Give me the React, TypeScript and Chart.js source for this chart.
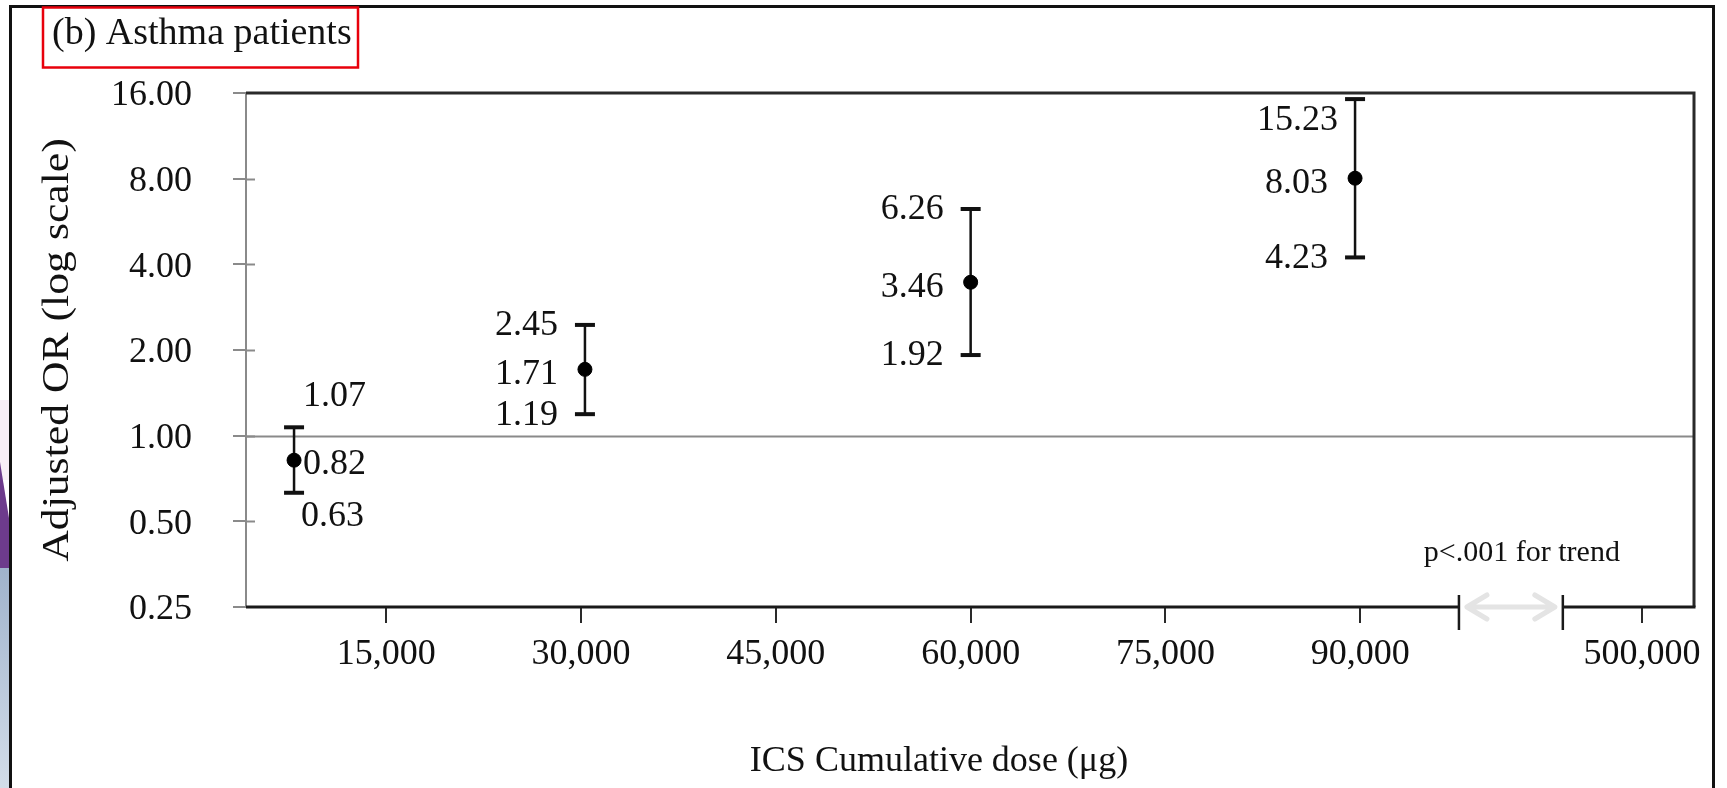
import React, { useEffect, useRef } from 'react';
import { Chart, registerables } from 'chart.js';

Chart.register(...registerables);

// ---- data ----
const doseX = [7900, 30300, 60000, 89600];
const orValues = [0.82, 1.71, 3.46, 8.03];
const lowerCI = [0.63, 1.19, 1.92, 4.23];
const upperCI = [1.07, 2.45, 6.26, 15.23];

const yTickValues = [0.25, 0.5, 1, 2, 4, 8, 16];
const yTickLabels = ['0.25', '0.50', '1.00', '2.00', '4.00', '8.00', '16.00'];

const xTickValues = [15000, 30000, 45000, 60000, 75000, 90000, 111700];
const xTickLabels = ['15,000', '30,000', '45,000', '60,000', '75,000', '90,000', '500,000'];
const xRange = [4200, 115700];
const xBreak = [97600, 105600];
const referenceOR = 1;

const panelTitle = '(b) Asthma patients';
const yTitle = 'Adjusted OR (log scale)';
const xTitle = 'ICS Cumulative dose (\u03bcg)';
const trendNote = 'p<.001 for trend';

const SERIF = "'Liberation Serif', 'Times New Roman', serif";
const TEXT = '#111111';

const fmt = (v: number) => v.toFixed(2);

const decorPlugin = {
  id: 'decor',
  beforeDraw(chart: any) {
    const ctx = chart.ctx;
    ctx.save();
    ctx.fillStyle = '#ffffff';
    ctx.fillRect(0, 0, chart.width, chart.height);
    // left edge decoration (background of original page)
    ctx.fillStyle = '#f8eef6';
    ctx.fillRect(0, 400, 9, 80);
    ctx.fillStyle = '#6d3b8c';
    ctx.beginPath();
    ctx.moveTo(0, 462);
    ctx.lineTo(9, 518);
    ctx.lineTo(9, 568);
    ctx.lineTo(0, 568);
    ctx.closePath();
    ctx.fill();
    const g = ctx.createLinearGradient(0, 568, 0, 788);
    g.addColorStop(0, '#9fb3cc');
    g.addColorStop(1, '#d3dde9');
    ctx.fillStyle = g;
    ctx.fillRect(0, 568, 9, 220);
    // outer frame
    ctx.strokeStyle = '#111';
    ctx.lineWidth = 3;
    ctx.strokeRect(10.5, 6.5, 1703, 800);
    // red title box
    ctx.strokeStyle = '#e8000b';
    ctx.lineWidth = 2.5;
    ctx.strokeRect(43, 7.5, 315, 60);
    ctx.fillStyle = TEXT;
    ctx.font = `38px ${SERIF}`;
    ctx.textAlign = 'left';
    ctx.textBaseline = 'alphabetic';
    ctx.fillText(panelTitle, 52, 44);
    ctx.restore();
  },
  beforeDatasetsDraw(chart: any) {
    const { ctx, chartArea } = chart;
    const y = chart.scales.y;
    const py = Math.round(y.getPixelForValue(referenceOR)) + 0.5;
    ctx.save();
    ctx.strokeStyle = '#8a8a8a';
    ctx.lineWidth = 2;
    ctx.beginPath();
    ctx.moveTo(chartArea.left, py);
    ctx.lineTo(chartArea.right, py);
    ctx.stroke();
    ctx.restore();
  },
  afterDraw(chart: any) {
    const { ctx, chartArea } = chart;
    const xs = chart.scales.x;
    const ys = chart.scales.y;
    const { left, right, top, bottom } = chartArea;
    ctx.save();
    // inner half of the y ticks
    ctx.strokeStyle = '#8a8a8a';
    ctx.lineWidth = 2;
    yTickValues.forEach((v, i) => {
      if (i === 0 || i === yTickValues.length - 1) return;
      const p = Math.round(ys.getPixelForValue(v)) + 0.5;
      ctx.beginPath();
      ctx.moveTo(left, p);
      ctx.lineTo(left + 9, p);
      ctx.stroke();
    });
    // top and right frame
    ctx.strokeStyle = '#2a2a2a';
    ctx.lineWidth = 3;
    ctx.beginPath();
    ctx.moveTo(left, top);
    ctx.lineTo(right, top);
    ctx.lineTo(right, bottom);
    ctx.stroke();
    // bottom axis with break
    const b0 = xs.getPixelForValue(xBreak[0]);
    const b1 = xs.getPixelForValue(xBreak[1]);
    ctx.strokeStyle = '#1a1a1a';
    ctx.lineWidth = 3;
    ctx.beginPath();
    ctx.moveTo(left, bottom);
    ctx.lineTo(b0, bottom);
    ctx.moveTo(b1, bottom);
    ctx.lineTo(right + 1.5, bottom);
    ctx.stroke();
    ctx.lineWidth = 2.5;
    ctx.beginPath();
    ctx.moveTo(b0, bottom - 12);
    ctx.lineTo(b0, bottom + 23);
    ctx.moveTo(b1, bottom - 12);
    ctx.lineTo(b1, bottom + 23);
    ctx.stroke();
    // light double arrow in the gap
    ctx.strokeStyle = '#e4e4e4';
    ctx.lineWidth = 5;
    ctx.lineCap = 'round';
    ctx.lineJoin = 'round';
    const a0 = b0 + 8;
    const a1 = b1 - 8;
    ctx.beginPath();
    ctx.moveTo(a0, bottom);
    ctx.lineTo(a1, bottom);
    ctx.moveTo(a0 + 20, bottom - 12);
    ctx.lineTo(a0, bottom);
    ctx.lineTo(a0 + 20, bottom + 12);
    ctx.moveTo(a1 - 20, bottom - 12);
    ctx.lineTo(a1, bottom);
    ctx.lineTo(a1 - 20, bottom + 12);
    ctx.stroke();
    // trend note
    ctx.fillStyle = TEXT;
    ctx.font = `30px ${SERIF}`;
    ctx.textAlign = 'center';
    ctx.textBaseline = 'middle';
    ctx.fillText(trendNote, (b0 + b1) / 2 + 11, bottom - 54);
    // x axis title
    ctx.font = `36px ${SERIF}`;
    ctx.fillText(xTitle, 939, 762);
    // y axis title (rotated, slightly stretched like the source image)
    ctx.save();
    ctx.translate(58, (top + bottom) / 2);
    ctx.rotate(-Math.PI / 2);
    ctx.scale(1.15, 1);
    ctx.font = `38px ${SERIF}`;
    ctx.fillText(yTitle, 0, 0);
    ctx.restore();
    // value labels
    ctx.font = `36px ${SERIF}`;
    const dy = 4;
    doseX.forEach((d, i) => {
      const px = xs.getPixelForValue(d);
      const pm = ys.getPixelForValue(orValues[i]);
      const pu = ys.getPixelForValue(upperCI[i]);
      const pl = ys.getPixelForValue(lowerCI[i]);
      if (i === 0) {
        ctx.textAlign = 'left';
        ctx.fillText(fmt(upperCI[i]), px + 9, pu - 35 + dy);
        ctx.fillText(fmt(orValues[i]), px + 9, pm + dy);
        ctx.fillText(fmt(lowerCI[i]), px + 7, pl + 20 + dy);
      } else {
        ctx.textAlign = 'right';
        const clamped = pu - 3 < top + 24;
        ctx.fillText(fmt(upperCI[i]), px - (clamped ? 17 : 27), (clamped ? top + 24 : pu - 3) + dy);
        ctx.fillText(fmt(orValues[i]), px - 27, pm + 1 + dy);
        ctx.fillText(fmt(lowerCI[i]), px - 27, pl - 3 + dy);
      }
    });
    ctx.restore();
  },
};

export default function App() {
  const canvasRef = useRef<HTMLCanvasElement | null>(null);

  useEffect(() => {
    const canvas = canvasRef.current;
    if (!canvas) return;

    const barData: any[] = [];
    doseX.forEach((d, i) => {
      barData.push({ x: d, y: lowerCI[i] });
      barData.push({ x: d, y: upperCI[i] });
      barData.push({ x: d, y: null });
    });

    const chart = new Chart(canvas, {
      type: 'scatter',
      data: {
        datasets: [
          {
            label: 'Adjusted OR',
            data: doseX.map((d, i) => ({ x: d, y: orValues[i] })),
            pointRadius: 7,
            pointHoverRadius: 7,
            backgroundColor: '#000',
            borderColor: '#000',
            showLine: false,
            order: 0,
            clip: false as any,
          },
          {
            label: '95% CI',
            data: barData,
            showLine: true,
            spanGaps: false,
            borderColor: '#111',
            borderWidth: 2.5,
            pointStyle: 'line',
            pointRadius: 10,
            pointHoverRadius: 10,
            pointBorderWidth: 4,
            pointBorderColor: '#111',
            pointBackgroundColor: '#111',
            order: 1,
            clip: false as any,
          } as any,
        ],
      },
      options: {
        responsive: false,
        maintainAspectRatio: false,
        devicePixelRatio: 1,
        animation: false,
        events: [],
        layout: { padding: { left: 0, top: 93, right: 33, bottom: 0 } },
        plugins: {
          legend: { display: false },
          tooltip: { enabled: false },
        },
        scales: {
          x: {
            type: 'linear',
            min: xRange[0],
            max: xRange[1],
            afterBuildTicks: (scale: any) => {
              scale.ticks = xTickValues.map((v) => ({ value: v }));
            },
            afterFit: (scale: any) => {
              scale.height = 181;
            },
            border: { display: false },
            grid: {
              drawOnChartArea: false,
              drawTicks: true,
              tickLength: 16,
              color: '#2a2a2a',
              lineWidth: 2,
            },
            ticks: {
              autoSkip: false,
              maxRotation: 0,
              padding: 10,
              color: TEXT,
              font: { family: SERIF, size: 36 },
              callback: (_v: any, i: number) => xTickLabels[i],
            },
          },
          y: {
            type: 'logarithmic',
            min: yTickValues[0],
            max: yTickValues[yTickValues.length - 1],
            afterBuildTicks: (scale: any) => {
              scale.ticks = yTickValues.map((v) => ({ value: v }));
            },
            afterFit: (scale: any) => {
              scale.width = 246;
            },
            border: { display: true, color: '#8a8a8a', width: 2 },
            grid: {
              drawOnChartArea: false,
              drawTicks: true,
              tickLength: 13,
              color: '#8a8a8a',
              lineWidth: 2,
            },
            ticks: {
              autoSkip: false,
              padding: 41,
              labelOffset: 3,
              color: TEXT,
              font: { family: SERIF, size: 36 },
              callback: (_v: any, i: number) => yTickLabels[i],
            },
            title: { display: false },
          },
        },
      },
      plugins: [decorPlugin],
    } as any);

    return () => chart.destroy();
  }, []);

  return (
    <div style={{ position: 'absolute', left: 0, top: 0, width: 1727, height: 788 }}>
      <canvas ref={canvasRef} width={1727} height={788} style={{ display: 'block', width: 1727, height: 788 }} />
    </div>
  );
}
